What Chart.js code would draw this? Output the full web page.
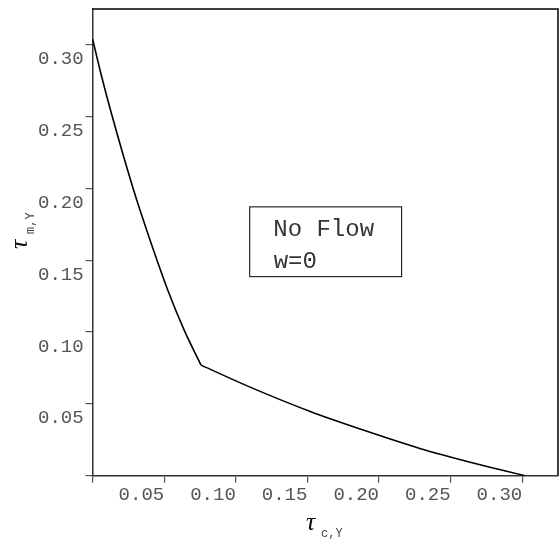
<!DOCTYPE html>
<html>
<head>
<meta charset="utf-8">
<title>No Flow boundary</title>
<script src="https://cdn.jsdelivr.net/npm/chart.js@4/dist/chart.umd.min.js"></script>
<style>
  html, body { margin: 0; padding: 0; background: #fff; }
  canvas { display: block; }
</style>
</head>
<body>
<canvas id="chart" width="559" height="541"></canvas>
<script>
// steep branch of the boundary (tau_c,Y -> tau_m,Y)
const upperX = [0, 0.0063, 0.0132, 0.0283, 0.0398, 0.0526, 0.0641, 0.0757];
const upperY = [0.304, 0.278, 0.252, 0.200, 0.165, 0.129, 0.101, 0.077];

// shallow branch after the kink
const lowerX = [0.0757, 0.1104, 0.1520, 0.1868, 0.2285, 0.2700, 0.3020];
const lowerY = [0.077, 0.0615, 0.0447, 0.0325, 0.0190, 0.0078, 0];

// axis range + ticks
const AXIS_MIN = 0;
const AXIS_MAX = 0.325;
const TICK_STEP = 0.05;

// note box (data coords) and its text
const noteX = [0.1097, 0.2158];
const noteY = [0.1386, 0.1872];
const noteLines = ['No Flow', 'w=0'];

const MONO = "'Liberation Mono', 'DejaVu Sans Mono', monospace";

const toPts = (xs, ys) => xs.map((x, i) => ({ x, y: ys[i] }));

function tickLabel(v) {
  return Math.abs(v) < 1e-9 ? '' : v.toFixed(2);
}

// ── extras: top/right frame, note box, axis titles with subscripts ──
const extrasPlugin = {
  id: 'extras',
  afterDraw(chart) {
    const { ctx, chartArea: a, scales: { x, y } } = chart;
    ctx.save();

    // frame
    ctx.strokeStyle = '#000';
    ctx.lineWidth = 1.5;
    ctx.beginPath();
    ctx.moveTo(a.left, a.top);
    ctx.lineTo(a.right, a.top);
    ctx.lineTo(a.right, a.bottom);
    ctx.stroke();

    // note box
    const bx0 = x.getPixelForValue(noteX[0]);
    const bx1 = x.getPixelForValue(noteX[1]);
    const by0 = y.getPixelForValue(noteY[1]);
    const by1 = y.getPixelForValue(noteY[0]);
    ctx.lineWidth = 1;
    ctx.strokeRect(bx0, by0, bx1 - bx0, by1 - by0);

    ctx.fillStyle = '#333';
    ctx.font = `24px ${MONO}`;
    ctx.textBaseline = 'alphabetic';
    ctx.textAlign = 'center';
    ctx.fillText(noteLines[0], (bx0 + bx1) / 2 - 2, by0 + 29);
    ctx.textAlign = 'left';
    ctx.fillText(noteLines[1], bx0 + 24, by0 + 61);

    // x title: tau_{c,Y}
    ctx.fillStyle = '#111';
    ctx.font = `italic 26px 'Liberation Serif', serif`;
    ctx.fillText('\u03C4', 306, 530);
    ctx.fillStyle = '#444';
    ctx.font = `12px ${MONO}`;
    ctx.fillText('c,Y', 321, 537);

    // y title: tau_{m,Y}, rotated
    ctx.translate(27, 249);
    ctx.rotate(-Math.PI / 2);
    ctx.fillStyle = '#111';
    ctx.font = `italic 26px 'Liberation Serif', serif`;
    ctx.fillText('\u03C4', 0, 0);
    ctx.fillStyle = '#444';
    ctx.font = `12px ${MONO}`;
    ctx.fillText('m,Y', 15, 7);

    ctx.restore();
  }
};

const axisGrid = { drawOnChartArea: false, drawTicks: true, tickLength: 7, color: '#555', lineWidth: 1.2 };
const axisBorder = { display: true, color: '#333', width: 1.5 };

new Chart(document.getElementById('chart'), {
  type: 'scatter',
  data: {
    datasets: [
      { data: toPts(upperX, upperY) },
      { data: toPts(lowerX, lowerY) }
    ].map(d => Object.assign(d, {
      showLine: true,
      borderColor: '#000',
      borderWidth: 1.6,
      pointRadius: 0,
      fill: false,
      cubicInterpolationMode: 'monotone'
    }))
  },
  options: {
    responsive: false,
    animation: false,
    devicePixelRatio: 1,
    layout: { padding: { left: 36, top: 9, right: 1, bottom: 33.5 } },
    plugins: { legend: { display: false }, tooltip: { enabled: false } },
    scales: {
      x: {
        type: 'linear',
        min: AXIS_MIN, max: AXIS_MAX,
        grid: axisGrid,
        border: axisBorder,
        ticks: {
          stepSize: TICK_STEP,
          includeBounds: false,
          align: 'end',
          padding: 1,
          color: '#555',
          maxRotation: 0,
          font: { family: MONO, size: 19 },
          callback: tickLabel
        }
      },
      y: {
        type: 'linear',
        min: AXIS_MIN, max: AXIS_MAX,
        grid: axisGrid,
        border: axisBorder,
        ticks: {
          stepSize: TICK_STEP,
          includeBounds: false,
          align: 'start',
          padding: 2,
          color: '#555',
          font: { family: MONO, size: 19, lineHeight: '10px' },
          // blank first line pushes the label just below its tick
          callback: v => { const s = tickLabel(v); return s ? ['', s] : ''; }
        }
      }
    }
  },
  plugins: [extrasPlugin]
});
</script>
</body>
</html>
